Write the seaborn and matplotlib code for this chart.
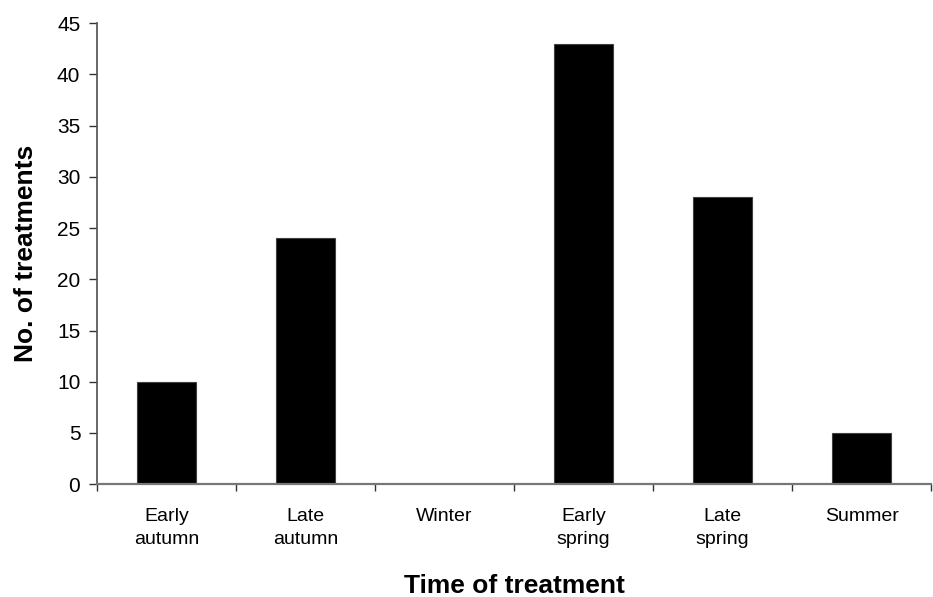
import numpy as np
import matplotlib
matplotlib.use("Agg")
import matplotlib.pyplot as plt
import seaborn as sns

# data
seasons = ["Early\nautumn", "Late\nautumn", "Winter", "Early\nspring", "Late\nspring", "Summer"]
counts = [10, 24, 0, 43, 28, 5]
y_ticks = [0, 5, 10, 15, 20, 25, 30, 35, 40, 45]

sns.set_theme(style="white")
plt.rcParams["font.family"] = ["Liberation Sans", "DejaVu Sans"]
plt.rcParams["text.color"] = "black"
plt.rcParams["xtick.labelcolor"] = "black"
plt.rcParams["ytick.labelcolor"] = "black"
plt.rcParams["axes.labelcolor"] = "black"

fig = plt.figure(figsize=(9.33, 5.97), dpi=100)
ax = fig.add_axes([0.104, 0.189, 0.894, 0.772])

sns.barplot(x=seasons, y=counts, color="black", width=0.42, saturation=1,
            edgecolor="#404040", linewidth=0.8, ax=ax)

ax.set_xlim(-0.5, len(seasons) - 0.5)
ax.set_ylim(0, 45)
ax.set_yticks(y_ticks)
ax.tick_params(axis="y", which="major", left=True, direction="out", length=6,
               width=1, color="#333333", labelsize=15, pad=6)
ax.tick_params(axis="x", which="major", bottom=False, labelsize=14, pad=11)
for lbl in ax.get_xticklabels():
    lbl.set_linespacing(1.45)
ax.set_xticks(np.arange(-0.5, len(seasons), 1.0), minor=True)
ax.tick_params(axis="x", which="minor", bottom=True, direction="out", length=5,
               width=1, color="#333333")

for s in ["top", "right"]:
    ax.spines[s].set_visible(False)
ax.spines["left"].set_color("#555555")
ax.spines["bottom"].set_color("#777777")
ax.spines["bottom"].set_linewidth(1.6)

ax.set_xlabel("Time of treatment", fontsize=19, fontweight="bold", labelpad=19)
ax.set_ylabel("No. of treatments", fontsize=19, fontweight="bold", labelpad=14)

fig.savefig("out.png", dpi=100)
